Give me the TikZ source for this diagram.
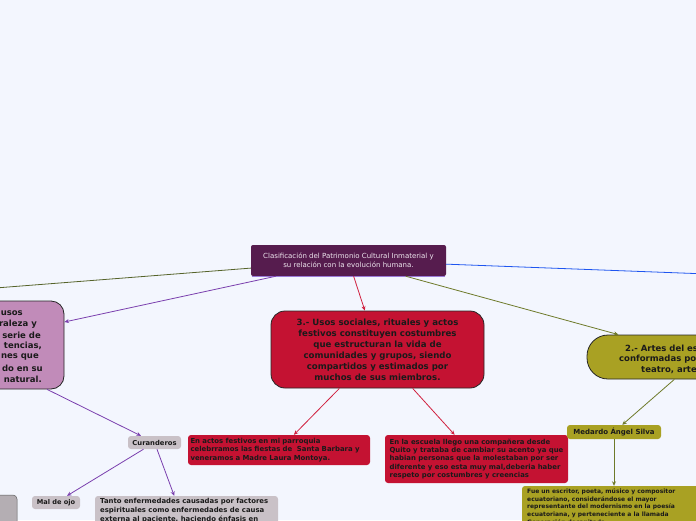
\documentclass[tikz,border=0pt]{standalone}
\usepackage{fontspec}
\setmainfont{DejaVu Sans}
\usetikzlibrary{arrows.meta}
\definecolor{bgc}{HTML}{F3F6FE}
\definecolor{rootc}{HTML}{561C4E}
\definecolor{rootedge}{HTML}{9A7AD8}
\definecolor{roott}{HTML}{EEE6EE}
\definecolor{pinkc}{HTML}{C18BB9}
\definecolor{redc}{HTML}{C41232}
\definecolor{olivec}{HTML}{A9A123}
\definecolor{grayc}{HTML}{C9C1C7}
\definecolor{gray2}{HTML}{B4AEB3}
\definecolor{purpl}{HTML}{7A3FAE}
\definecolor{redl}{HTML}{D0203F}
\definecolor{olivel}{HTML}{6E7A2A}
\definecolor{darkol}{HTML}{55632A}
\definecolor{bluel}{HTML}{1E55F0}
\definecolor{txt}{HTML}{1A1A1A}
\tikzset{
  rootbox/.style={fill=rootc, rounded corners=2pt, minimum width=195pt, minimum height=31pt, inner sep=0pt, text=roott, font=\fontsize{7}{9.2}\selectfont, align=center},
  bigbox/.style={draw=black!85, line width=0.8pt, inner sep=0pt, text=txt, font=\bfseries\fontsize{8.6}{11}\selectfont, align=center},
  smallbox/.style={rounded corners=3pt, inner sep=0pt, text=txt, font=\bfseries\fontsize{6.9}{8.2}\selectfont},
  frag/.style={inner sep=0pt, text=txt, font=\bfseries\fontsize{8.5}{11}\selectfont},
  conn/.style={line width=0.8pt, -{Stealth[length=4.5pt,width=4pt]}},
  plain/.style={line width=0.8pt}
}
\begin{document}
\begin{tikzpicture}[x=1pt,y=-1pt]
\useasboundingbox (0,0) rectangle (696,520);
\fill[bgc] (0,0) rectangle (696,520);

% root
\node[rootbox] (root) at (348.5,260.5) {Clasificación del Patrimonio Cultural Inmaterial y\\su relación con la evolución humana.};
\draw[rootedge, line width=0.9pt] ([xshift=1pt]root.south west) -- ([xshift=-1pt]root.south east);

% left big node
\node[bigbox, fill=pinkc, rounded corners=13pt, minimum width=213pt, minimum height=88pt] (left) at (-42.5,345) {};
\node[frag, anchor=east] (l1) at (23,313) {usos};
\node[frag, anchor=east] (l2) at (37,324) {raleza y};
\node[frag, anchor=east] (l3) at (41,335) {serie de};
\node[frag, anchor=east] (l4) at (42,346) {tencias,};
\node[frag, anchor=east] (l5) at (39,357) {nes que};
\node[frag, anchor=east] (l6) at (43,368) {do en su};
\node[frag, anchor=east] (l7) at (42,379) {natural.};

% node 3
\node[bigbox, fill=redc, rounded corners=14pt, minimum width=213pt, minimum height=77pt] (n3) at (377.5,349.5)
{3.- Usos sociales, rituales y actos\\festivos constituyen costumbres\\que estructuran la vida de\\comunidades y grupos, siendo\\compartidos y estimados por\\muchos de sus miembros.};

% node 2
\node[bigbox, fill=olivec, rounded corners=21pt, minimum width=226pt, minimum height=44pt] (n2) at (700,357) {};
\node[frag, anchor=west] (r1) at (625,348) {2.- Artes del es};
\node[frag, anchor=west] (r2) at (619,359) {conformadas po};
\node[frag, anchor=west] (r3) at (641,370) {teatro, arte};

% red small nodes
\node[smallbox, fill=redc, minimum width=182pt, minimum height=30pt, text width=177pt, align=left] (rs1) at (279,450)
{En actos festivos en mi parroquia\\celebrramos las fiestas de\ \ Santa Barbara y\\veneramos a Madre Laura Montoya.};
\node[smallbox, fill=redc, minimum width=183pt, minimum height=48pt, align=left] (rs2) at (476.5,459)
{En la escuela llego una compañera desde\\Quito y trataba de cambiar su acento ya que\\habian personas que la molestaban por ser\\diferente y eso esta muy mal,deberia haber\\respeto por costumbres y creencias};

% olive small nodes
\node[smallbox, fill=olivec, minimum width=94pt, minimum height=14pt, font=\bfseries\fontsize{7}{8}\selectfont] (med) at (614,432) {Medardo Ángel Silva};
\node[smallbox, fill=olivec, minimum width=184pt, minimum height=68pt] (fue) at (614,520) {};
\node[inner sep=0pt, anchor=north west, align=left, text=txt, font=\bfseries\fontsize{6}{7.7}\selectfont] (fuet) at (527,488.5)
{Fue un escritor, poeta, músico y compositor\\ecuatoriano, considerándose el mayor\\representante del modernismo en la poesía\\ecuatoriana, y perteneciente a la llamada\\Generación decapitada.};

% gray nodes
\node[smallbox, fill=grayc, minimum width=53pt, minimum height=13pt, font=\bfseries\fontsize{6.8}{8}\selectfont] (cur) at (154.5,442.5) {Curanderos};
\node[smallbox, fill=grayc, minimum width=48pt, minimum height=13pt, font=\bfseries\fontsize{6.6}{8}\selectfont] (mal) at (56,502.5) {Mal de ojo};
\node[smallbox, fill=grayc, minimum width=183pt, minimum height=66pt] (tanto) at (186.5,529) {};
\node[inner sep=0pt, anchor=north west, align=left, text=txt, font=\bfseries\fontsize{6.9}{8.6}\selectfont] (tantot) at (100,498.5)
{Tanto enfermedades causadas por factores\\espirituales como enfermedades de causa\\externa al paciente, haciendo énfasis en};
\node[rounded corners=4pt, fill=gray2, draw=gray!70!black, line width=0.5pt, minimum width=47pt, minimum height=50pt, inner sep=0pt] (gl) at (-6.5,520) {};

% off-page ends
\coordinate (offL) at (-300,311);
\coordinate (offR) at (1000,285);

% connectors
\draw[plain, darkol] (root) -- (offL);
\draw[plain, bluel] (root) -- (offR);
\draw[conn, purpl] (root) -- (left);
\draw[conn, redl] (root) -- (n3);
\draw[conn, olivel] (root) -- (n2);
\draw[conn, purpl] (left) -- (cur);
\draw[conn, purpl] (cur) -- (mal);
\draw[conn, purpl] (cur) -- (tanto);
\draw[conn, redl] (n3) -- (rs1);
\draw[conn, redl] (n3) -- (rs2);
\draw[conn, olivel] (n2) -- (med);
\draw[conn, olivel] (med) -- (fue);
\end{tikzpicture}
\end{document}
